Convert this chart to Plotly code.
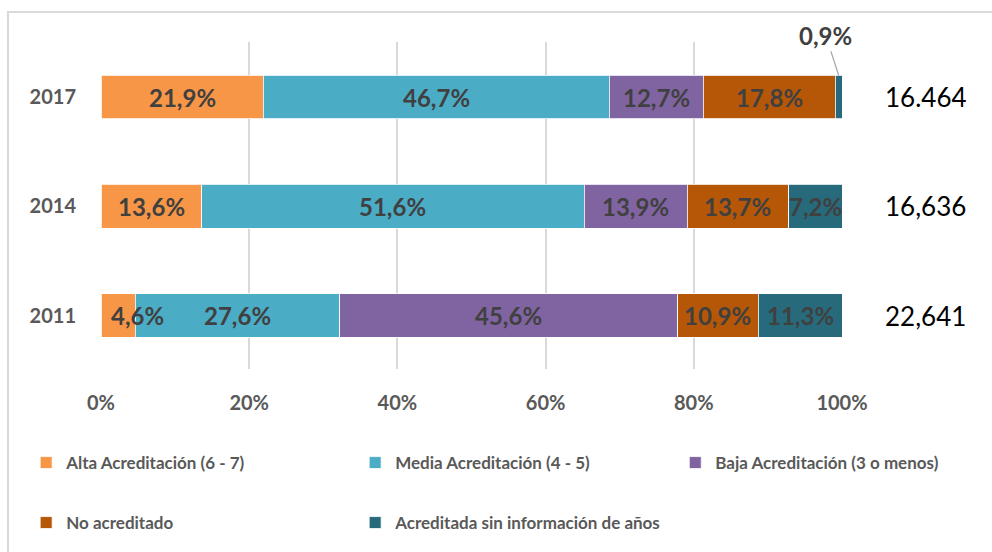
import plotly.graph_objects as go

years = ["2011", "2014", "2017"]
series_names = [
    "Alta Acreditación (6 - 7)",
    "Media Acreditación (4 - 5)",
    "Baja Acreditación (3 o menos)",
    "No acreditado",
    "Acreditada sin información de años",
]
alta = [4.6, 13.6, 21.9]
media = [27.6, 51.6, 46.7]
baja = [45.6, 13.9, 12.7]
no_acred = [10.9, 13.7, 17.8]
sin_info = [11.3, 7.2, 0.9]
totals = ["22,641", "16,636", "16.464"]
x_ticks = [0, 20, 40, 60, 80, 100]

colors = ["#F79646", "#4BACC6", "#8064A2", "#B65708", "#276A7B"]
all_values = [alta, media, baja, no_acred, sin_info]
legend_ids = ["legend", "legend2", "legend3", "legend4", "legend5"]
legend_pos = [(-0.101, -0.2875), (0.343, -0.2875), (0.775, -0.2875),
              (-0.101, -0.471), (0.343, -0.471)]

FONT = "Lato"
LABEL_COLOR = "#404040"

fig = go.Figure()
for name, vals, col, lg in zip(series_names, all_values, colors, legend_ids):
    fig.add_trace(go.Bar(
        y=years, x=vals, name=name, orientation="h",
        marker=dict(color=col, line=dict(color="white", width=0.8)),
        legend=lg, hoverinfo="skip",
    ))

annotations = []
for i, yr in enumerate(years):
    cum = 0.0
    for s, vals in enumerate(all_values):
        v = vals[i]
        center = cum + v / 2
        cum += v
        txt = f"{v:.1f}%".replace(".", ",")
        if v < 2:
            annotations.append(dict(
                x=cum - v / 2, y=i + 0.2, xref="x", yref="y", text=txt,
                showarrow=True, arrowhead=0, arrowwidth=1.2, arrowcolor="#A6A6A6",
                ax=-13, ay=-40,
                font=dict(family=FONT, size=24, color=LABEL_COLOR, weight="bold"),
            ))
            continue
        xs = 19 if v < 6 else 0
        annotations.append(dict(
            x=center, y=i, xref="x", yref="y", text=txt, showarrow=False,
            xshift=xs, font=dict(family=FONT, size=24, color=LABEL_COLOR, weight="bold"),
        ))

for i, t in enumerate(totals):
    annotations.append(dict(
        x=1.113, y=i, xref="paper", yref="y", text=t, showarrow=False,
        xanchor="center", yanchor="middle",
        font=dict(family=FONT, size=26, color="#000000"),
    ))

legend_layouts = {}
for lid, (lx, ly) in zip(legend_ids, legend_pos):
    legend_layouts[lid] = dict(
        orientation="h", x=lx, xanchor="left", y=ly, yanchor="middle",
        font=dict(family=FONT, size=17, color="#595959", weight="bold"),
        bgcolor="rgba(0,0,0,0)",
    )

fig.update_layout(
    barmode="stack",
    bargap=0.6,
    width=992, height=552,
    margin=dict(l=101, r=150, t=42, b=183, autoexpand=False),
    paper_bgcolor="white", plot_bgcolor="white",
    font=dict(family=FONT, color="#595959"),
    xaxis=dict(
        range=[0, 100], tickvals=x_ticks,
        ticktext=[f"{t}%" for t in x_ticks],
        showgrid=True, gridcolor="#D9D9D9", gridwidth=1.5,
        zeroline=False, showline=False, ticks="",
        ticklabelstandoff=20,
        tickfont=dict(family=FONT, size=20, color="#595959", weight="bold"),
        fixedrange=True,
    ),
    yaxis=dict(
        range=[-0.49, 2.505], type="category",
        showgrid=False, zeroline=False, showline=False, ticks="",
        ticklabelstandoff=24,
        tickfont=dict(family=FONT, size=20, color="#595959", weight="bold"),
        fixedrange=True,
    ),
    annotations=annotations,
    shapes=[dict(
        type="rect", xref="paper", yref="paper",
        x0=-0.1255, x1=1.25, y0=-0.7, y1=1.0917,
        line=dict(color="#D9D9D9", width=2), fillcolor="rgba(0,0,0,0)", layer="below",
    )],
    showlegend=True,
    **legend_layouts,
)

fig.write_html("out.html", config={"displayModeBar": False},
               post_script="document.body.style.margin='0';")
